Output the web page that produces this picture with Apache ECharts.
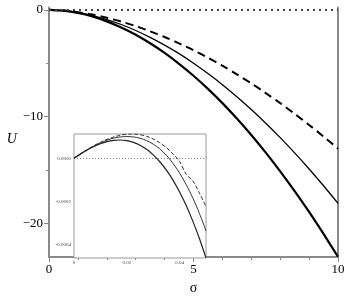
<!DOCTYPE html>
<html><head><meta charset="utf-8">
<script src="https://cdn.jsdelivr.net/npm/echarts@6/dist/echarts.min.js"></script>
<style>html,body{margin:0;padding:0;background:#fff}#c{width:349px;height:300px}</style>
</head><body><div id="c"></div>
<script>
// Main chart: sigma from 0 to 10
const sigma = [0,0.5,1,1.5,2,2.5,3,3.5,4,4.5,5,5.5,6,6.5,7,7.5,8,8.5,9,9.5,10];
const uDashed = [0,-0.06,-0.22,-0.44,-0.74,-1.10,-1.52,-2.01,-2.54,-3.14,-3.78,-4.48,-5.23,-6.04,-6.88,-7.79,-8.73,-9.73,-10.77,-11.86,-12.99];
const uThin   = [0,-0.07,-0.25,-0.53,-0.91,-1.37,-1.93,-2.57,-3.30,-4.10,-4.99,-5.96,-7.00,-8.13,-9.33,-10.61,-11.96,-13.39,-14.89,-16.46,-18.11];
const uThick  = [0,-0.08,-0.29,-0.62,-1.08,-1.65,-2.33,-3.13,-4.03,-5.05,-6.17,-7.40,-8.73,-10.17,-11.71,-13.36,-15.11,-16.96,-18.91,-20.97,-23.11];
// Inset: sigma from 0 to 0.05
const sigmaIn = [0,0.0025,0.005,0.0075,0.01,0.0125,0.015,0.0175,0.02,0.0225,0.025,0.0275,0.03,0.0325,0.035,0.0375,0.04,0.0425,0.045,0.0475,0.05];
const inDashed = [0,0.0000206,0.000040,0.0000582,0.0000737,0.0000873,0.0000983,0.0001063,0.000111,0.0001119,0.000109,0.0001013,0.0000891,0.0000716,0.000049,0.0000201,-0.0000148,-0.0000743,-0.0001044,-0.00016,-0.000223];
const inThin   = [0,0.0000197,0.0000384,0.0000557,0.0000711,0.0000835,0.000093,0.0000985,0.0001,0.0000985,0.0000925,0.0000815,0.0000655,0.0000433,0.0000138,-0.0000233,-0.0000683,-0.0001216,-0.000183,-0.000254,-0.000335];
const inThick  = [0,0.0000203,0.0000386,0.0000544,0.0000673,0.0000768,0.0000826,0.0000843,0.0000814,0.0000736,0.0000603,0.0000412,0.0000156,-0.000016,-0.000055,-0.000101,-0.000156,-0.000218,-0.00029,-0.00037,-0.00046];
// tick labels
const xMainLabels = [0,5,10];
const yMainLabels = [0,-10,-20];
const yMainMinor = [-5,-15];
const xInLabels = [0,0.02,0.04];
const yInLabels = [0,-0.0002,-0.0004];
const yInTicks = [0.0001,0,-0.0001,-0.0002,-0.0003,-0.0004];

const pair = (xs, ys) => xs.map((x,i)=>[x, ys[i]]);
const F = '"Liberation Serif", "Times New Roman", serif';
const axisGray = '#8a8a8a';

const chart = echarts.init(document.getElementById('c'), null, {renderer:'canvas'});
chart.setOption({
  animation:false,
  backgroundColor:'#fff',
  grid:[
    {left:49, right:11, top:7.5, bottom:32},
    {left:74, right:143, top:134, bottom:42, show:true, borderColor:'#999', borderWidth:1, backgroundColor:'#fff', z:5}
  ],
  xAxis:[
    {gridIndex:0, type:'value', min:0, max:10, interval:5,
     name:'σ', nameLocation:'middle', nameGap:12, nameTextStyle:{fontFamily:F, fontSize:14, color:'#000'},
     axisLine:{show:true, onZero:false, lineStyle:{color:axisGray, width:2}},
     axisTick:{show:true, inside:false, length:5, lineStyle:{color:axisGray, width:1}},
     minorTick:{show:true, splitNumber:5, length:3, lineStyle:{color:axisGray, width:1}},
     axisLabel:{fontFamily:F, fontSize:13, color:'#000', margin:6, customValues:xMainLabels},
     splitLine:{show:false}},
    {gridIndex:1, type:'value', min:0, max:0.05, interval:0.01,
     axisLine:{show:false},
     axisTick:{show:true, inside:true, length:2, lineStyle:{color:'#999', width:1}},
     axisLabel:{fontFamily:F, fontSize:5, color:'#444', margin:2, customValues:xInLabels,
       formatter:v=> v===0?'0':v.toFixed(2)},
     splitLine:{show:false}}
  ],
  yAxis:[
    {gridIndex:0, type:'value', position:'left', min:-23.14, max:0.22,
     name:'U', nameLocation:'middle', nameRotate:0, nameGap:30,
     nameTextStyle:{fontFamily:F, fontSize:14, fontStyle:'italic', color:'#000', verticalAlign:'top'},
     axisLine:{show:true, onZero:false, lineStyle:{color:axisGray, width:2}},
     axisTick:{show:true, length:5, customValues:yMainLabels, lineStyle:{color:axisGray, width:1}},
     axisLabel:{fontFamily:F, fontSize:13, color:'#000', margin:6, customValues:yMainLabels,
       formatter:v=> v===0?'0':(v<0?'\u2212'+Math.abs(v):String(v))},
     splitLine:{show:false}},
    {gridIndex:0, type:'value', position:'left', min:-23.14, max:0.22,
     axisLine:{show:false},
     axisTick:{show:true, length:3, customValues:yMainMinor, lineStyle:{color:axisGray, width:1}},
     axisLabel:{show:false}, splitLine:{show:false}},
    {gridIndex:0, type:'value', position:'right', min:-23.14, max:0.22,
     axisLine:{show:true, onZero:false, lineStyle:{color:axisGray, width:2}},
     axisTick:{show:false}, axisLabel:{show:false}, splitLine:{show:false}},
    {gridIndex:1, type:'value', min:-0.00046, max:0.000112,
     axisLine:{show:false},
     axisTick:{show:true, inside:true, length:2, customValues:yInTicks, lineStyle:{color:'#999', width:1}},
     axisLabel:{fontFamily:F, fontSize:5, color:'#444', margin:3, customValues:yInLabels,
       formatter:v=> v.toFixed(4)},
     splitLine:{show:false}}
  ],
  series:[
    {type:'line', xAxisIndex:0, yAxisIndex:0, data:pair(sigma,uDashed), smooth:0.3, showSymbol:false,
     lineStyle:{color:'#000', width:2, type:[8,5]},
     markLine:{silent:true, symbol:'none', label:{show:false},
       lineStyle:{color:'#444', width:2, type:[2,4]}, data:[{yAxis:0}]}},
    {type:'line', xAxisIndex:0, yAxisIndex:0, data:pair(sigma,uThin), smooth:0.3, showSymbol:false,
     lineStyle:{color:'#000', width:1.3}},
    {type:'line', xAxisIndex:0, yAxisIndex:0, data:pair(sigma,uThick), smooth:0.3, showSymbol:false,
     lineStyle:{color:'#000', width:2.2}},
    {type:'line', xAxisIndex:1, yAxisIndex:3, data:pair(sigmaIn,inDashed), smooth:0.3, showSymbol:false, z:6,
     lineStyle:{color:'#333', width:1, type:[4,2]},
     markLine:{silent:true, symbol:'none', label:{show:false},
       lineStyle:{color:'#888', width:1, type:[1,2]}, data:[{yAxis:0}]}},
    {type:'line', xAxisIndex:1, yAxisIndex:3, data:pair(sigmaIn,inThin), smooth:0.3, showSymbol:false, z:6,
     lineStyle:{color:'#333', width:1}},
    {type:'line', xAxisIndex:1, yAxisIndex:3, data:pair(sigmaIn,inThick), smooth:0.3, showSymbol:false, z:6,
     lineStyle:{color:'#222', width:1.2}}
  ]
});
</script></body></html>
